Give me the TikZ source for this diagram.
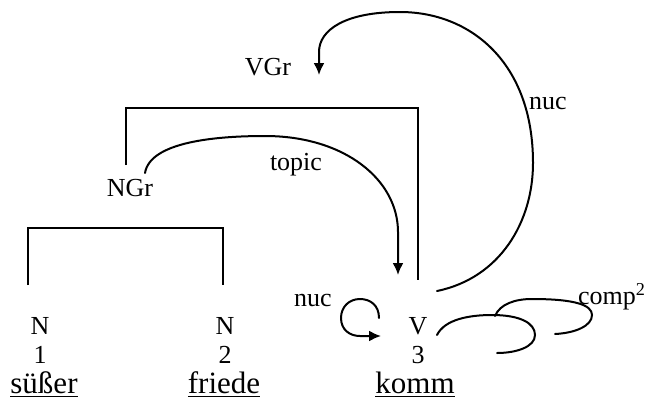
\documentclass[tikz,border=0pt]{standalone}
\usepackage{fontspec}
\setmainfont{Liberation Serif}
\usetikzlibrary{arrows.meta}

\tikzset{
  cat/.style={inner sep=1pt, font=\fontsize{13}{15}\selectfont},
  word/.style={inner sep=1pt, font=\fontsize{15.5}{18}\selectfont},
  rel/.style={inner sep=1pt, font=\fontsize{13}{15}\selectfont},
  bracket/.style={line width=1pt},
  dep/.style={line width=1pt, line cap=round},
}

\begin{document}
\begin{tikzpicture}[x=0.5pt, y=-0.5pt, >={Latex[length=6pt,width=5.5pt]}]
    \useasboundingbox (0,0) rectangle (662,407);

    % Words
    \node[word] (w1) at (44,385) {\underline{süßer}};
    \node[word] (w2) at (224,385) {\underline{friede}};
    \node[word] (w3) at (415,385) {\underline{komm}};

    % Positions
    \node[cat] (i1) at (40,355) {1};
    \node[cat] (i2) at (225,355) {2};
    \node[cat] (i3) at (418,355) {3};

    % Word classes
    \node[cat] (n1) at (40,326) {N};
    \node[cat] (n2) at (225,326) {N};
    \node[cat] (v) at (418,326) {V};

    % Groups
    \node[cat] (ngr) at (130,188) {NGr};
    \node[cat] (vgr) at (268,67) {VGr};

    % Brackets
    \coordinate (ngr-l) at (28,285);
    \coordinate (ngr-r) at (223,285);
    \coordinate (vgr-l) at (126,165);
    \coordinate (vgr-r) at (418,280);
    \draw[bracket] (ngr-l) -- (28,228) -- (223,228) -- (ngr-r);
    \draw[bracket] (vgr-l) -- (126,108) -- (418,108) -- (vgr-r);

    % topic: NGr -> V
    \coordinate (topic-from) at (145,173);
    \coordinate (topic-to) at (398,275);
    \draw[dep,->] (topic-from) .. controls (150,142) and (215,136) .. (265,136)
        .. controls (345,136) and (398,180) .. (398,232) -- (topic-to);
    \node[rel] (topic) at (296,165) {topic};

    % nuc: V -> VGr
    \coordinate (nuc-from) at (437,291);
    \coordinate (nuc-to) at (319,75);
    \draw[dep,->] (nuc-from) .. controls (500,278) and (533,222) .. (533,163)
        .. controls (533,62) and (470,12) .. (400,12)
        .. controls (345,12) and (319,30) .. (319,52) -- (nuc-to);
    \node[rel] (nuc) at (548,103) {nuc};

    % nuc: loop on V
    \coordinate (loop-from) at (379,318);
    \coordinate (loop-to) at (381,336);
    \draw[dep,->] (loop-from) .. controls (379,305) and (370,299) .. (360,299)
        .. controls (349,299) and (341,307) .. (341,318)
        .. controls (341,330) and (350,336) .. (360,336) -- (loop-to);
    \node[rel] (nucv) at (313,300) {nuc};

    % comp^2
    \draw[dep] (437,335) .. controls (445,319) and (470,315) .. (492,315)
        .. controls (520,315) and (535,323) .. (535,335)
        .. controls (535,347) and (516,353) .. (497,353);
    \draw[dep] (495,316) .. controls (500,304) and (515,299) .. (532,299)
        .. controls (575,299) and (592,305) .. (592,315)
        .. controls (592,326) and (575,333) .. (555,334);
    \node[rel] (comp) at (612,297) {comp\textsuperscript{2}};
\end{tikzpicture}
\end{document}
